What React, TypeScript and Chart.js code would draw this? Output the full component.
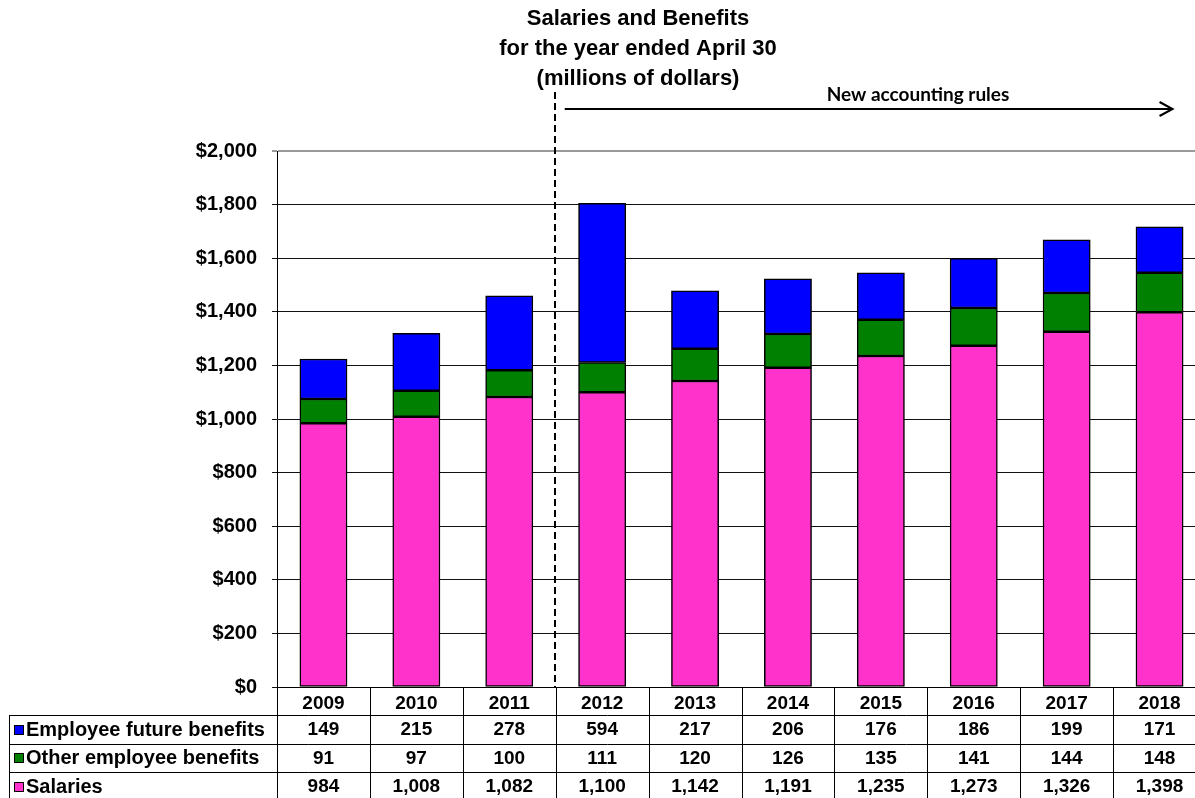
import React, { useEffect, useRef } from 'react';
import { Chart, registerables } from 'chart.js';

Chart.register(...registerables);

const years = ['2009', '2010', '2011', '2012', '2013', '2014', '2015', '2016', '2017', '2018'];
const salaries = [984, 1008, 1082, 1100, 1142, 1191, 1235, 1273, 1326, 1398];
const otherBenefits = [91, 97, 100, 111, 120, 126, 135, 141, 144, 148];
const futureBenefits = [149, 215, 278, 594, 217, 206, 176, 186, 199, 171];
const seriesNames = ['Salaries', 'Other employee benefits', 'Employee future benefits'];
const seriesColors = ['#FF33CC', '#008000', '#0000FF'];
const yMin = 0;
const yMax = 2000;
const yStep = 200;
const titleLines = ['Salaries and Benefits', 'for the year ended April 30', '(millions of dollars)'];
const annotationText = 'New accounting rules';
const changeIndex = 3; // first year under new accounting rules

const FONT = "'Liberation Sans', Arial, sans-serif";

const overlayPlugin = {
  id: 'overlay',
  afterDraw(chart: any) {
    const { ctx, chartArea: ca, scales } = chart;
    const x = scales.x;
    const H = chart.height;
    const px = (v: number) => Math.round(v) + 0.5;
    ctx.save();

    // ---- title ----
    ctx.fillStyle = '#000';
    ctx.textAlign = 'center';
    ctx.textBaseline = 'middle';
    ctx.font = `bold 22px ${FONT}`;
    titleLines.forEach((t, i) => ctx.fillText(t, 638, 19 + i * 30));

    // ---- dashed separator ----
    const dashX = (x.getPixelForValue(changeIndex - 1) + x.getPixelForValue(changeIndex)) / 2 - 1;
    ctx.strokeStyle = '#000';
    ctx.lineWidth = 2;
    ctx.setLineDash([7, 4]);
    ctx.beginPath();
    ctx.moveTo(Math.round(dashX), 92);
    ctx.lineTo(Math.round(dashX), ca.bottom);
    ctx.stroke();
    ctx.setLineDash([]);

    // ---- arrow ----
    const ay = 109;
    const ax0 = dashX + 10;
    const ax1 = x.getPixelForValue(years.length - 1) + 13;
    ctx.beginPath();
    ctx.moveTo(ax0, ay);
    ctx.lineTo(ax1, ay);
    ctx.moveTo(ax1 - 13, ay - 7);
    ctx.lineTo(ax1, ay);
    ctx.lineTo(ax1 - 13, ay + 7);
    ctx.stroke();
    ctx.font = `bold 19px Lato, ${FONT}`;
    ctx.textAlign = 'center';
    ctx.textBaseline = 'middle';
    ctx.fillText(annotationText, 918, 95);

    // ---- data table ----
    const colW = x.getPixelForValue(1) - x.getPixelForValue(0);
    const headerBottom = ca.bottom + 28;
    const rowH = 28.5;
    const tableLeft = 9;
    const rows = [
      { name: seriesNames[2], color: seriesColors[2], data: futureBenefits },
      { name: seriesNames[1], color: seriesColors[1], data: otherBenefits },
      { name: seriesNames[0], color: seriesColors[0], data: salaries },
    ];
    ctx.strokeStyle = '#000';
    ctx.lineWidth = 1;
    ctx.beginPath();
    for (let i = 0; i <= rows.length; i++) {
      const yy = px(headerBottom + i * rowH);
      ctx.moveTo(tableLeft, yy);
      ctx.lineTo(ca.right, yy);
    }
    ctx.moveTo(px(tableLeft), px(headerBottom));
    ctx.lineTo(px(tableLeft), H);
    for (let j = 0; j <= years.length; j++) {
      const xx = px(x.getPixelForValue(j) - colW / 2);
      ctx.moveTo(xx, ca.bottom);
      ctx.lineTo(xx, H);
    }
    ctx.stroke();

    ctx.textBaseline = 'middle';
    rows.forEach((r, i) => {
      const cy = headerBottom + i * rowH + rowH / 2 + 1;
      // legend key
      const ky = Math.round(cy - 5.5);
      ctx.fillStyle = r.color;
      ctx.fillRect(14, ky, 10, 10);
      ctx.strokeRect(14.5, ky + 0.5, 9, 9);
      ctx.fillStyle = '#000';
      ctx.textAlign = 'left';
      ctx.font = `bold 20px ${FONT}`;
      ctx.fillText(r.name, 26, cy);
      ctx.textAlign = 'center';
      ctx.font = `bold 19px ${FONT}`;
      r.data.forEach((v, j) => {
        ctx.fillText(v.toLocaleString('en-US'), x.getPixelForValue(j), cy);
      });
    });

    ctx.restore();
  },
};

export default function App() {
  const ref = useRef<HTMLCanvasElement>(null);
  useEffect(() => {
    if (!ref.current) return;
    const chart = new Chart(ref.current, {
      type: 'bar',
      data: {
        labels: years,
        datasets: [
          { label: seriesNames[0], data: salaries, backgroundColor: seriesColors[0] },
          { label: seriesNames[1], data: otherBenefits, backgroundColor: seriesColors[1] },
          { label: seriesNames[2], data: futureBenefits, backgroundColor: seriesColors[2] },
        ].map((d) => ({
          ...d,
          borderColor: '#000',
          borderWidth: 1.5,
          borderSkipped: false,
          inflateAmount: 0.25,
          barPercentage: 0.51,
          categoryPercentage: 1,
        })),
      },
      options: {
        responsive: false,
        animation: false,
        devicePixelRatio: 1,
        layout: { padding: { top: 151, bottom: 83, left: 0, right: 0 } },
        plugins: {
          legend: { display: false },
          tooltip: { enabled: false },
          title: { display: false },
        },
        scales: {
          x: {
            stacked: true,
            grid: { display: false, drawTicks: false },
            border: { display: true, color: '#000', width: 1 },
            ticks: {
              color: '#000',
              font: { family: FONT, size: 19, weight: 'bold' },
              padding: 5,
              maxRotation: 0,
              autoSkip: false,
            },
            afterFit: (s: any) => {
              s.height = 28;
            },
          },
          y: {
            stacked: true,
            min: yMin,
            max: yMax,
            ticks: {
              stepSize: yStep,
              color: '#000',
              font: { family: FONT, size: 20, weight: 'bold' },
              padding: 15,
              callback: (v: any) => '$' + Number(v).toLocaleString('en-US'),
            },
            grid: {
              color: (c: any) => (c.tick && c.tick.value === yMax ? '#999999' : '#111111'),
              lineWidth: (c: any) => (c.tick && c.tick.value === yMax ? 2 : 1),
              tickLength: 5,
              drawTicks: true,
            },
            border: { color: '#000', width: 1 },
            afterFit: (s: any) => {
              s.width = 277;
            },
          },
        },
      },
      plugins: [overlayPlugin],
    });
    return () => chart.destroy();
  }, []);

  return (
    <div style={{ position: 'absolute', left: 0, top: 0, width: 1195, height: 798, overflow: 'hidden', background: '#fff' }}>
      <canvas ref={ref} width={1206} height={798} style={{ display: 'block' }} />
    </div>
  );
}
